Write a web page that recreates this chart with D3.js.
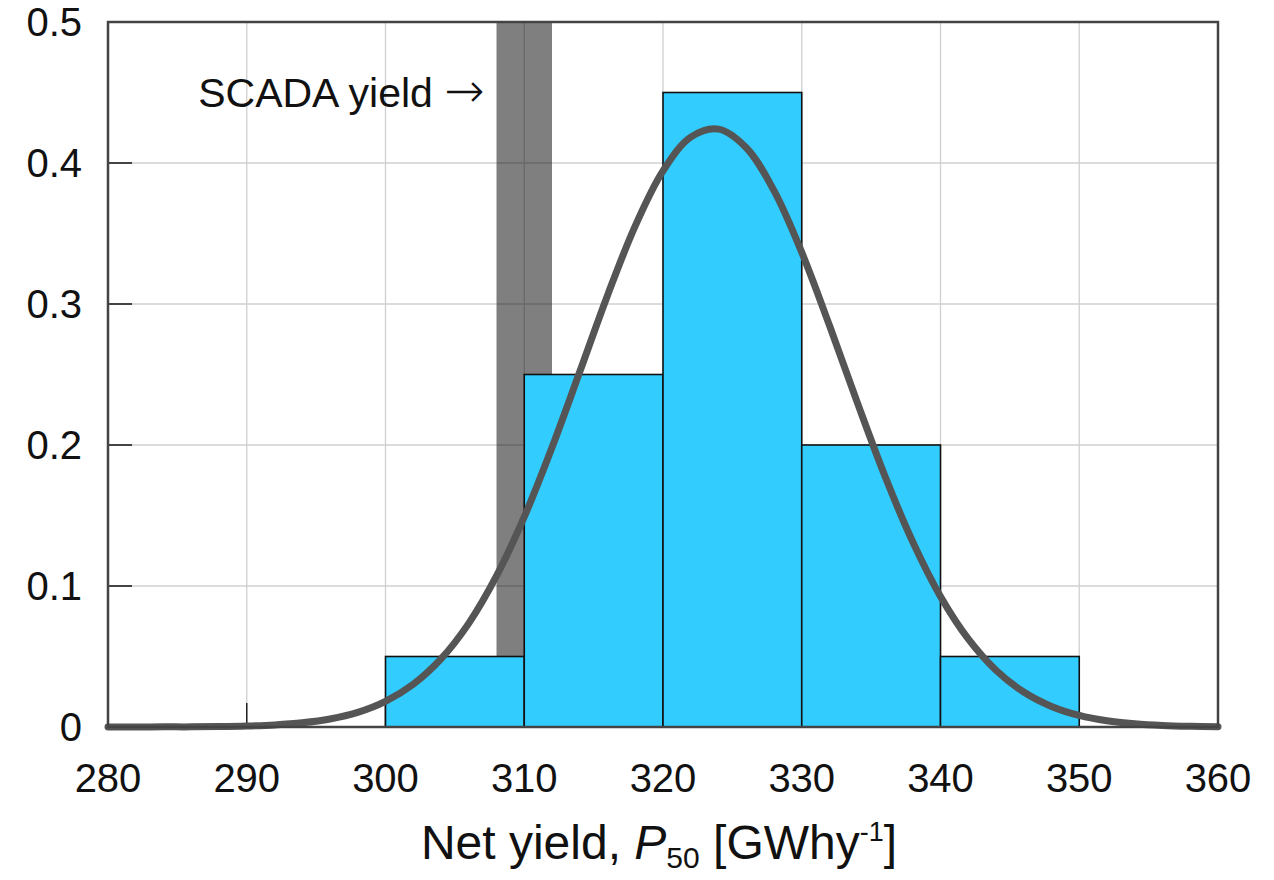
<!DOCTYPE html>
<html>
<head>
<meta charset="utf-8">
<script src="https://cdn.jsdelivr.net/npm/d3@7"></script>
<style>
  html, body { margin: 0; padding: 0; background: #fff; }
  svg { display: block; font-family: "Liberation Sans", Arial, sans-serif; }
</style>
</head>
<body>
<svg id="chart" width="1274" height="880"></svg>
<script>
// Histogram bins (lower edge, upper edge) and their probabilities
const binStarts = [300, 310, 320, 330, 340];
const binEnds   = [310, 320, 330, 340, 350];
const binValues = [0.05, 0.25, 0.45, 0.20, 0.05];

// Fitted distribution curve
const curveX = [280, 282, 284, 286, 288, 290, 292, 294, 296, 298, 300, 302, 304, 306, 308, 310, 312, 314, 316, 318, 320, 322, 324, 326, 328, 330, 332, 334, 336, 338, 340, 342, 344, 346, 348, 350, 352, 354, 356, 358, 360];
const curveY = [0.0000, 0.0000, 0.0001, 0.0001, 0.0003, 0.0007, 0.0015, 0.0030, 0.0057, 0.0104, 0.0182, 0.0303, 0.0483, 0.0735, 0.1071, 0.1490, 0.1982, 0.2519, 0.3061, 0.3554, 0.3944, 0.4183, 0.4240, 0.4108, 0.3804, 0.3366, 0.2847, 0.2302, 0.1778, 0.1313, 0.0926, 0.0625, 0.0403, 0.0248, 0.0146, 0.0082, 0.0044, 0.0023, 0.0011, 0.0005, 0.0002];

// SCADA yield band
const scadaRange = [308, 312];
const scadaLabel = "SCADA yield";
const scadaArrow = "\u2192";

// Axis ticks
const xTicks = [280, 290, 300, 310, 320, 330, 340, 350, 360];
const yTicks = [0, 0.1, 0.2, 0.3, 0.4, 0.5];
const yTickLabels = ["0", "0.1", "0.2", "0.3", "0.4", "0.5"];

const margin = { left: 108, right: 56, top: 22, bottom: 153 };
const W = 1274, H = 880;
const svg = d3.select("#chart");

const x = d3.scaleLinear().domain([280, 360]).range([margin.left, W - margin.right]);
const y = d3.scaleLinear().domain([0, 0.5]).range([H - margin.bottom, margin.top]);

// Grid
const grid = svg.append("g");
grid.selectAll("line.gx").data(xTicks).join("line")
  .attr("x1", d => x(d)).attr("x2", d => x(d))
  .attr("y1", y(0)).attr("y2", y(0.5))
  .attr("stroke", "#d0d0d0").attr("stroke-width", 1.3);
grid.selectAll("line.gy").data(yTicks).join("line")
  .attr("x1", x(280)).attr("x2", x(360))
  .attr("y1", d => y(d)).attr("y2", d => y(d))
  .attr("stroke", "#d0d0d0").attr("stroke-width", 1.3);

// SCADA band (semi-transparent)
svg.append("rect")
  .attr("x", x(scadaRange[0]))
  .attr("width", x(scadaRange[1]) - x(scadaRange[0]))
  .attr("y", y(0.5))
  .attr("height", y(0) - y(0.5))
  .attr("fill", "#000").attr("fill-opacity", 0.5);

// Ticks (inward)
const tickLen = 24;
svg.append("g").selectAll("line").data(xTicks).join("line")
  .attr("x1", d => x(d)).attr("x2", d => x(d))
  .attr("y1", y(0)).attr("y2", y(0) - tickLen)
  .attr("stroke", "#222").attr("stroke-width", 1.5);
svg.append("g").selectAll("line").data(yTicks).join("line")
  .attr("x1", x(280)).attr("x2", x(280) + tickLen)
  .attr("y1", d => y(d)).attr("y2", d => y(d))
  .attr("stroke", "#333").attr("stroke-width", 1.8);

// Bars
svg.append("g").selectAll("rect").data(binValues).join("rect")
  .attr("x", (d, i) => x(binStarts[i]))
  .attr("width", (d, i) => x(binEnds[i]) - x(binStarts[i]))
  .attr("y", d => y(d))
  .attr("height", d => y(0) - y(d))
  .attr("fill", "#33ccff")
  .attr("stroke", "#111").attr("stroke-width", 1.6);

// Curve
const line = d3.line()
  .x((d, i) => x(curveX[i]))
  .y(d => y(d))
  .curve(d3.curveCatmullRom);
svg.append("path")
  .datum(curveY)
  .attr("d", line)
  .attr("fill", "none")
  .attr("stroke", "#555")
  .attr("stroke-width", 7)
  .attr("stroke-linecap", "round")
  .attr("stroke-linejoin", "round");

// Frame
svg.append("rect")
  .attr("x", x(280)).attr("y", y(0.5))
  .attr("width", x(360) - x(280)).attr("height", y(0) - y(0.5))
  .attr("fill", "none").attr("stroke", "#444").attr("stroke-width", 2.5);

// Tick labels
svg.append("g").selectAll("text").data(xTicks).join("text")
  .attr("x", d => x(d)).attr("y", y(0) + 65)
  .attr("text-anchor", "middle")
  .attr("font-size", 40).attr("fill", "#111")
  .text(d => d);
svg.append("g").selectAll("text").data(yTicks).join("text")
  .attr("x", x(280) - 26).attr("y", d => y(d) + 14)
  .attr("text-anchor", "end")
  .attr("font-size", 40).attr("fill", "#111")
  .text((d, i) => yTickLabels[i]);

// SCADA label
const sl = svg.append("text")
  .attr("x", x(scadaRange[0]) - 12).attr("y", 107)
  .attr("text-anchor", "end")
  .attr("font-size", 41).attr("fill", "#111");
sl.append("tspan").text(scadaLabel + " ");
sl.append("tspan").attr("font-family", "DejaVu Sans").attr("font-size", 48).attr("font-weight", 300).text(scadaArrow);

// X axis title
const title = svg.append("text")
  .attr("x", (x(280) + x(360)) / 2 - 4).attr("y", 859)
  .attr("text-anchor", "middle")
  .attr("font-size", 48).attr("fill", "#111");
title.append("tspan").text("Net yield, ");
title.append("tspan").attr("font-style", "italic").text("P");
title.append("tspan").attr("font-size", 30).attr("dy", 9).text("50");
title.append("tspan").attr("dy", -9).text(" [GWhy");
title.append("tspan").attr("font-size", 27).attr("dy", -18).text("-1");
title.append("tspan").attr("dy", 18).text("]");
</script>
</body>
</html>
